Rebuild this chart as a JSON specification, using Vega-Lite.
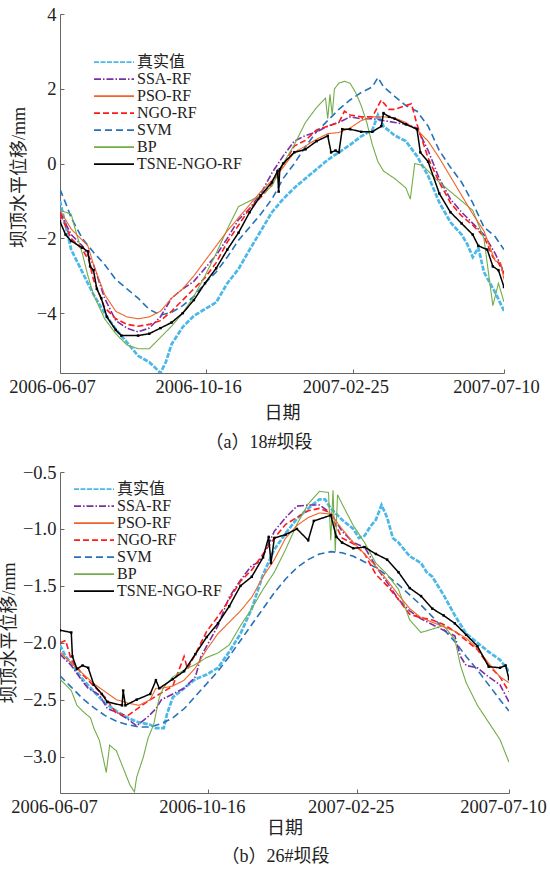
{
"$schema":"https://vega.github.io/schema/vega-lite/v6.json",
"background":"white",
"padding":{"left":0,"top":5,"right":0,"bottom":0},
"spacing":11,
"config":{
"view":{"stroke":null},
"axis":{"labelFont":"Liberation Serif","labelFontSize":18.5,"labelColor":"#222","titleFont":"Liberation Serif, Noto Sans CJK SC","titleFontSize":18,"titleFontWeight":"normal","titleColor":"#222","domainColor":"#666","tickColor":"#666","tickSize":-4,"labelPadding":8,"grid":false,"labelFlush":false,"labelOverlap":false,"labelBound":false},
"legend":{"symbolType":"stroke","symbolSize":1600,"symbolStrokeWidth":1.6,"labelFont":"Liberation Serif, Noto Sans CJK SC","labelFontSize":16,"labelColor":"#222","labelOffset":2,"clipHeight":14.3,"rowPadding":0,"padding":0,"symbolOffset":0,"orient":"none"}
},
"resolve":{"scale":{"color":"independent","strokeDash":"independent","x":"independent","y":"independent"}},
"datasets":{
"top":[
{"s":"真实值","d":"2006-06-07","v":-1.0},{"s":"真实值","d":"2006-06-17","v":-2.3},{"s":"真实值","d":"2006-06-27","v":-2.9},{"s":"真实值","d":"2006-07-07","v":-3.5},{"s":"真实值","d":"2006-07-17","v":-4.0},{"s":"真实值","d":"2006-07-27","v":-4.43},{"s":"真实值","d":"2006-08-06","v":-4.78},{"s":"真实值","d":"2006-08-16","v":-5.14},{"s":"真实值","d":"2006-08-26","v":-5.31},{"s":"真实值","d":"2006-08-31","v":-5.45},{"s":"真实值","d":"2006-09-05","v":-5.6},{"s":"真实值","d":"2006-09-10","v":-5.3},{"s":"真实值","d":"2006-09-15","v":-4.83},{"s":"真实值","d":"2006-09-25","v":-4.37},{"s":"真实值","d":"2006-10-05","v":-4.07},{"s":"真实值","d":"2006-10-15","v":-3.89},{"s":"真实值","d":"2006-10-25","v":-3.71},{"s":"真实值","d":"2006-11-04","v":-3.2},{"s":"真实值","d":"2006-11-14","v":-2.82},{"s":"真实值","d":"2006-11-24","v":-2.3},{"s":"真实值","d":"2006-12-04","v":-1.8},{"s":"真实值","d":"2006-12-14","v":-1.3},{"s":"真实值","d":"2006-12-24","v":-0.95},{"s":"真实值","d":"2007-01-03","v":-0.65},{"s":"真实值","d":"2007-01-13","v":-0.4},{"s":"真实值","d":"2007-01-23","v":-0.15},{"s":"真实值","d":"2007-02-02","v":0.1},{"s":"真实值","d":"2007-02-12","v":0.3},{"s":"真实值","d":"2007-02-22","v":0.5},{"s":"真实值","d":"2007-03-04","v":0.73},{"s":"真实值","d":"2007-03-14","v":0.9},{"s":"真实值","d":"2007-03-19","v":1.3},{"s":"真实值","d":"2007-03-24","v":1.0},{"s":"真实值","d":"2007-04-03","v":0.75},{"s":"真实值","d":"2007-04-13","v":0.6},{"s":"真实值","d":"2007-04-23","v":0.2},{"s":"真实值","d":"2007-05-03","v":-0.33},{"s":"真实值","d":"2007-05-13","v":-1.04},{"s":"真实值","d":"2007-05-23","v":-1.57},{"s":"真实值","d":"2007-06-02","v":-1.9},{"s":"真实值","d":"2007-06-07","v":-2.15},{"s":"真实值","d":"2007-06-12","v":-2.5},{"s":"真实值","d":"2007-06-17","v":-2.25},{"s":"真实值","d":"2007-06-22","v":-2.9},{"s":"真实值","d":"2007-07-02","v":-3.44},{"s":"真实值","d":"2007-07-10","v":-3.94},
{"s":"SVM","d":"2006-06-07","v":-0.69},{"s":"SVM","d":"2006-06-12","v":-1.05},{"s":"SVM","d":"2006-06-17","v":-1.45},{"s":"SVM","d":"2006-06-27","v":-2.0},{"s":"SVM","d":"2006-07-07","v":-2.37},{"s":"SVM","d":"2006-07-17","v":-2.7},{"s":"SVM","d":"2006-07-27","v":-3.1},{"s":"SVM","d":"2006-08-06","v":-3.35},{"s":"SVM","d":"2006-08-16","v":-3.6},{"s":"SVM","d":"2006-08-26","v":-3.9},{"s":"SVM","d":"2006-09-05","v":-4.05},{"s":"SVM","d":"2006-09-15","v":-3.98},{"s":"SVM","d":"2006-09-25","v":-3.8},{"s":"SVM","d":"2006-10-05","v":-3.55},{"s":"SVM","d":"2006-10-15","v":-3.2},{"s":"SVM","d":"2006-10-25","v":-2.9},{"s":"SVM","d":"2006-11-04","v":-2.5},{"s":"SVM","d":"2006-11-14","v":-2.05},{"s":"SVM","d":"2006-11-24","v":-1.7},{"s":"SVM","d":"2006-12-04","v":-1.35},{"s":"SVM","d":"2006-12-14","v":-0.95},{"s":"SVM","d":"2006-12-24","v":-0.4},{"s":"SVM","d":"2007-01-03","v":0.0},{"s":"SVM","d":"2007-01-13","v":0.45},{"s":"SVM","d":"2007-01-23","v":0.85},{"s":"SVM","d":"2007-02-02","v":1.15},{"s":"SVM","d":"2007-02-12","v":1.45},{"s":"SVM","d":"2007-02-22","v":1.7},{"s":"SVM","d":"2007-03-04","v":1.9},{"s":"SVM","d":"2007-03-14","v":2.05},{"s":"SVM","d":"2007-03-19","v":2.3},{"s":"SVM","d":"2007-03-24","v":2.05},{"s":"SVM","d":"2007-04-03","v":1.8},{"s":"SVM","d":"2007-04-13","v":1.55},{"s":"SVM","d":"2007-04-23","v":1.4},{"s":"SVM","d":"2007-05-03","v":1.0},{"s":"SVM","d":"2007-05-13","v":0.35},{"s":"SVM","d":"2007-05-23","v":-0.1},{"s":"SVM","d":"2007-06-02","v":-0.5},{"s":"SVM","d":"2007-06-12","v":-1.05},{"s":"SVM","d":"2007-06-22","v":-1.7},{"s":"SVM","d":"2007-07-02","v":-1.95},{"s":"SVM","d":"2007-07-10","v":-2.3},
{"s":"BP","d":"2006-06-07","v":-1.25},{"s":"BP","d":"2006-06-17","v":-1.35},{"s":"BP","d":"2006-06-22","v":-1.9},{"s":"BP","d":"2006-06-27","v":-2.4},{"s":"BP","d":"2006-07-02","v":-3.0},{"s":"BP","d":"2006-07-07","v":-3.5},{"s":"BP","d":"2006-07-17","v":-4.15},{"s":"BP","d":"2006-07-27","v":-4.55},{"s":"BP","d":"2006-08-06","v":-4.85},{"s":"BP","d":"2006-08-16","v":-4.95},{"s":"BP","d":"2006-08-26","v":-4.95},{"s":"BP","d":"2006-09-05","v":-4.65},{"s":"BP","d":"2006-09-15","v":-4.35},{"s":"BP","d":"2006-09-25","v":-4.0},{"s":"BP","d":"2006-10-05","v":-3.55},{"s":"BP","d":"2006-10-15","v":-3.0},{"s":"BP","d":"2006-10-25","v":-2.4},{"s":"BP","d":"2006-11-04","v":-1.75},{"s":"BP","d":"2006-11-14","v":-1.15},{"s":"BP","d":"2006-11-24","v":-1.0},{"s":"BP","d":"2006-12-04","v":-0.85},{"s":"BP","d":"2006-12-14","v":-0.6},{"s":"BP","d":"2006-12-24","v":0.0},{"s":"BP","d":"2007-01-03","v":0.5},{"s":"BP","d":"2007-01-13","v":1.1},{"s":"BP","d":"2007-01-23","v":1.5},{"s":"BP","d":"2007-01-31","v":1.75},{"s":"BP","d":"2007-02-02","v":1.2},{"s":"BP","d":"2007-02-04","v":1.85},{"s":"BP","d":"2007-02-06","v":1.3},{"s":"BP","d":"2007-02-08","v":2.0},{"s":"BP","d":"2007-02-12","v":2.15},{"s":"BP","d":"2007-02-17","v":2.2},{"s":"BP","d":"2007-02-22","v":2.15},{"s":"BP","d":"2007-02-27","v":1.9},{"s":"BP","d":"2007-03-04","v":1.55},{"s":"BP","d":"2007-03-09","v":1.1},{"s":"BP","d":"2007-03-14","v":0.5},{"s":"BP","d":"2007-03-19","v":0.05},{"s":"BP","d":"2007-03-24","v":-0.2},{"s":"BP","d":"2007-04-03","v":-0.4},{"s":"BP","d":"2007-04-13","v":-0.65},{"s":"BP","d":"2007-04-17","v":-0.95},{"s":"BP","d":"2007-04-21","v":0.0},{"s":"BP","d":"2007-04-28","v":-0.05},{"s":"BP","d":"2007-05-03","v":-0.2},{"s":"BP","d":"2007-05-13","v":-0.5},{"s":"BP","d":"2007-05-23","v":-0.75},{"s":"BP","d":"2007-06-02","v":-1.0},{"s":"BP","d":"2007-06-12","v":-1.25},{"s":"BP","d":"2007-06-22","v":-2.0},{"s":"BP","d":"2007-06-30","v":-3.8},{"s":"BP","d":"2007-07-05","v":-3.2},{"s":"BP","d":"2007-07-10","v":-3.7},
{"s":"SSA-RF","d":"2006-06-07","v":-1.3},{"s":"SSA-RF","d":"2006-06-17","v":-1.9},{"s":"SSA-RF","d":"2006-06-27","v":-2.2},{"s":"SSA-RF","d":"2006-07-07","v":-2.7},{"s":"SSA-RF","d":"2006-07-17","v":-3.6},{"s":"SSA-RF","d":"2006-07-27","v":-4.2},{"s":"SSA-RF","d":"2006-08-06","v":-4.4},{"s":"SSA-RF","d":"2006-08-16","v":-4.5},{"s":"SSA-RF","d":"2006-08-26","v":-4.4},{"s":"SSA-RF","d":"2006-09-05","v":-4.1},{"s":"SSA-RF","d":"2006-09-15","v":-3.6},{"s":"SSA-RF","d":"2006-09-25","v":-3.35},{"s":"SSA-RF","d":"2006-10-05","v":-3.15},{"s":"SSA-RF","d":"2006-10-15","v":-2.8},{"s":"SSA-RF","d":"2006-10-25","v":-2.45},{"s":"SSA-RF","d":"2006-11-04","v":-2.0},{"s":"SSA-RF","d":"2006-11-14","v":-1.5},{"s":"SSA-RF","d":"2006-11-24","v":-1.2},{"s":"SSA-RF","d":"2006-12-04","v":-0.8},{"s":"SSA-RF","d":"2006-12-14","v":-0.25},{"s":"SSA-RF","d":"2006-12-24","v":0.2},{"s":"SSA-RF","d":"2007-01-03","v":0.6},{"s":"SSA-RF","d":"2007-01-13","v":0.75},{"s":"SSA-RF","d":"2007-01-23","v":0.85},{"s":"SSA-RF","d":"2007-02-02","v":1.0},{"s":"SSA-RF","d":"2007-02-12","v":1.1},{"s":"SSA-RF","d":"2007-02-22","v":1.25},{"s":"SSA-RF","d":"2007-03-04","v":1.2},{"s":"SSA-RF","d":"2007-03-14","v":1.2},{"s":"SSA-RF","d":"2007-03-24","v":1.15},{"s":"SSA-RF","d":"2007-04-03","v":1.1},{"s":"SSA-RF","d":"2007-04-13","v":1.05},{"s":"SSA-RF","d":"2007-04-23","v":0.95},{"s":"SSA-RF","d":"2007-05-03","v":0.35},{"s":"SSA-RF","d":"2007-05-13","v":-0.4},{"s":"SSA-RF","d":"2007-05-23","v":-0.95},{"s":"SSA-RF","d":"2007-06-02","v":-1.3},{"s":"SSA-RF","d":"2007-06-12","v":-1.6},{"s":"SSA-RF","d":"2007-06-22","v":-1.9},{"s":"SSA-RF","d":"2007-07-02","v":-2.4},{"s":"SSA-RF","d":"2007-07-10","v":-2.9},
{"s":"PSO-RF","d":"2006-06-07","v":-1.25},{"s":"PSO-RF","d":"2006-06-17","v":-1.75},{"s":"PSO-RF","d":"2006-06-27","v":-2.05},{"s":"PSO-RF","d":"2006-07-02","v":-2.2},{"s":"PSO-RF","d":"2006-07-07","v":-2.7},{"s":"PSO-RF","d":"2006-07-17","v":-3.5},{"s":"PSO-RF","d":"2006-07-27","v":-3.95},{"s":"PSO-RF","d":"2006-08-06","v":-4.1},{"s":"PSO-RF","d":"2006-08-16","v":-4.15},{"s":"PSO-RF","d":"2006-08-26","v":-4.1},{"s":"PSO-RF","d":"2006-09-05","v":-3.95},{"s":"PSO-RF","d":"2006-09-15","v":-3.6},{"s":"PSO-RF","d":"2006-09-25","v":-3.35},{"s":"PSO-RF","d":"2006-10-05","v":-3.0},{"s":"PSO-RF","d":"2006-10-15","v":-2.6},{"s":"PSO-RF","d":"2006-10-25","v":-2.2},{"s":"PSO-RF","d":"2006-11-04","v":-1.8},{"s":"PSO-RF","d":"2006-11-14","v":-1.45},{"s":"PSO-RF","d":"2006-11-24","v":-1.1},{"s":"PSO-RF","d":"2006-12-04","v":-0.75},{"s":"PSO-RF","d":"2006-12-14","v":-0.45},{"s":"PSO-RF","d":"2006-12-24","v":-0.1},{"s":"PSO-RF","d":"2007-01-03","v":0.3},{"s":"PSO-RF","d":"2007-01-13","v":0.47},{"s":"PSO-RF","d":"2007-01-23","v":0.65},{"s":"PSO-RF","d":"2007-02-02","v":0.8},{"s":"PSO-RF","d":"2007-02-12","v":0.83},{"s":"PSO-RF","d":"2007-02-22","v":0.95},{"s":"PSO-RF","d":"2007-03-04","v":1.15},{"s":"PSO-RF","d":"2007-03-14","v":1.25},{"s":"PSO-RF","d":"2007-03-24","v":1.25},{"s":"PSO-RF","d":"2007-04-03","v":1.22},{"s":"PSO-RF","d":"2007-04-13","v":1.1},{"s":"PSO-RF","d":"2007-04-23","v":0.9},{"s":"PSO-RF","d":"2007-05-03","v":0.6},{"s":"PSO-RF","d":"2007-05-13","v":0.15},{"s":"PSO-RF","d":"2007-05-23","v":-0.35},{"s":"PSO-RF","d":"2007-06-02","v":-0.85},{"s":"PSO-RF","d":"2007-06-12","v":-1.35},{"s":"PSO-RF","d":"2007-06-22","v":-1.8},{"s":"PSO-RF","d":"2007-06-27","v":-2.2},{"s":"PSO-RF","d":"2007-07-02","v":-2.6},{"s":"PSO-RF","d":"2007-07-07","v":-2.65},{"s":"PSO-RF","d":"2007-07-10","v":-3.1},
{"s":"NGO-RF","d":"2006-06-07","v":-1.35},{"s":"NGO-RF","d":"2006-06-17","v":-2.0},{"s":"NGO-RF","d":"2006-06-27","v":-2.3},{"s":"NGO-RF","d":"2006-07-03","v":-2.6},{"s":"NGO-RF","d":"2006-07-07","v":-3.1},{"s":"NGO-RF","d":"2006-07-17","v":-3.85},{"s":"NGO-RF","d":"2006-07-27","v":-4.15},{"s":"NGO-RF","d":"2006-08-06","v":-4.3},{"s":"NGO-RF","d":"2006-08-16","v":-4.35},{"s":"NGO-RF","d":"2006-08-26","v":-4.3},{"s":"NGO-RF","d":"2006-09-05","v":-4.2},{"s":"NGO-RF","d":"2006-09-15","v":-3.95},{"s":"NGO-RF","d":"2006-09-25","v":-3.65},{"s":"NGO-RF","d":"2006-10-05","v":-3.35},{"s":"NGO-RF","d":"2006-10-15","v":-3.05},{"s":"NGO-RF","d":"2006-10-25","v":-2.65},{"s":"NGO-RF","d":"2006-11-04","v":-2.1},{"s":"NGO-RF","d":"2006-11-14","v":-1.65},{"s":"NGO-RF","d":"2006-11-24","v":-1.2},{"s":"NGO-RF","d":"2006-12-04","v":-0.9},{"s":"NGO-RF","d":"2006-12-14","v":-0.55},{"s":"NGO-RF","d":"2006-12-24","v":-0.05},{"s":"NGO-RF","d":"2007-01-03","v":0.47},{"s":"NGO-RF","d":"2007-01-13","v":0.62},{"s":"NGO-RF","d":"2007-01-23","v":0.9},{"s":"NGO-RF","d":"2007-02-02","v":1.0},{"s":"NGO-RF","d":"2007-02-12","v":1.1},{"s":"NGO-RF","d":"2007-02-17","v":1.4},{"s":"NGO-RF","d":"2007-02-22","v":1.3},{"s":"NGO-RF","d":"2007-03-04","v":1.25},{"s":"NGO-RF","d":"2007-03-14","v":1.25},{"s":"NGO-RF","d":"2007-03-22","v":1.7},{"s":"NGO-RF","d":"2007-03-29","v":1.45},{"s":"NGO-RF","d":"2007-04-03","v":1.45},{"s":"NGO-RF","d":"2007-04-13","v":1.55},{"s":"NGO-RF","d":"2007-04-18","v":1.6},{"s":"NGO-RF","d":"2007-04-23","v":1.05},{"s":"NGO-RF","d":"2007-05-03","v":0.15},{"s":"NGO-RF","d":"2007-05-13","v":-0.5},{"s":"NGO-RF","d":"2007-05-23","v":-1.05},{"s":"NGO-RF","d":"2007-06-02","v":-1.4},{"s":"NGO-RF","d":"2007-06-12","v":-1.65},{"s":"NGO-RF","d":"2007-06-22","v":-1.95},{"s":"NGO-RF","d":"2007-06-30","v":-2.5},{"s":"NGO-RF","d":"2007-07-05","v":-2.65},{"s":"NGO-RF","d":"2007-07-10","v":-2.95},
{"s":"TSNE-NGO-RF","d":"2006-06-07","v":-1.55},{"s":"TSNE-NGO-RF","d":"2006-06-12","v":-1.9},{"s":"TSNE-NGO-RF","d":"2006-06-17","v":-2.07},{"s":"TSNE-NGO-RF","d":"2006-06-27","v":-2.25},{"s":"TSNE-NGO-RF","d":"2006-07-02","v":-2.35},{"s":"TSNE-NGO-RF","d":"2006-07-04","v":-2.75},{"s":"TSNE-NGO-RF","d":"2006-07-07","v":-2.85},{"s":"TSNE-NGO-RF","d":"2006-07-10","v":-3.35},{"s":"TSNE-NGO-RF","d":"2006-07-14","v":-3.6},{"s":"TSNE-NGO-RF","d":"2006-07-19","v":-4.1},{"s":"TSNE-NGO-RF","d":"2006-07-27","v":-4.45},{"s":"TSNE-NGO-RF","d":"2006-08-01","v":-4.6},{"s":"TSNE-NGO-RF","d":"2006-08-16","v":-4.6},{"s":"TSNE-NGO-RF","d":"2006-08-26","v":-4.55},{"s":"TSNE-NGO-RF","d":"2006-09-05","v":-4.4},{"s":"TSNE-NGO-RF","d":"2006-09-15","v":-4.25},{"s":"TSNE-NGO-RF","d":"2006-09-25","v":-4.0},{"s":"TSNE-NGO-RF","d":"2006-10-05","v":-3.65},{"s":"TSNE-NGO-RF","d":"2006-10-15","v":-3.2},{"s":"TSNE-NGO-RF","d":"2006-10-25","v":-2.8},{"s":"TSNE-NGO-RF","d":"2006-11-04","v":-2.3},{"s":"TSNE-NGO-RF","d":"2006-11-14","v":-1.85},{"s":"TSNE-NGO-RF","d":"2006-11-24","v":-1.3},{"s":"TSNE-NGO-RF","d":"2006-12-04","v":-0.85},{"s":"TSNE-NGO-RF","d":"2006-12-14","v":-0.5},{"s":"TSNE-NGO-RF","d":"2006-12-19","v":-0.2},{"s":"TSNE-NGO-RF","d":"2006-12-20","v":-0.75},{"s":"TSNE-NGO-RF","d":"2006-12-21","v":-0.15},{"s":"TSNE-NGO-RF","d":"2006-12-24","v":0.0},{"s":"TSNE-NGO-RF","d":"2007-01-03","v":0.3},{"s":"TSNE-NGO-RF","d":"2007-01-13","v":0.38},{"s":"TSNE-NGO-RF","d":"2007-01-23","v":0.6},{"s":"TSNE-NGO-RF","d":"2007-02-02","v":0.74},{"s":"TSNE-NGO-RF","d":"2007-02-05","v":0.3},{"s":"TSNE-NGO-RF","d":"2007-02-09","v":0.35},{"s":"TSNE-NGO-RF","d":"2007-02-12","v":0.3},{"s":"TSNE-NGO-RF","d":"2007-02-15","v":0.92},{"s":"TSNE-NGO-RF","d":"2007-02-22","v":0.92},{"s":"TSNE-NGO-RF","d":"2007-03-04","v":0.85},{"s":"TSNE-NGO-RF","d":"2007-03-14","v":0.85},{"s":"TSNE-NGO-RF","d":"2007-03-22","v":1.0},{"s":"TSNE-NGO-RF","d":"2007-03-24","v":1.35},{"s":"TSNE-NGO-RF","d":"2007-03-29","v":1.25},{"s":"TSNE-NGO-RF","d":"2007-04-03","v":1.2},{"s":"TSNE-NGO-RF","d":"2007-04-13","v":1.05},{"s":"TSNE-NGO-RF","d":"2007-04-23","v":0.92},{"s":"TSNE-NGO-RF","d":"2007-04-26","v":0.3},{"s":"TSNE-NGO-RF","d":"2007-05-03","v":0.05},{"s":"TSNE-NGO-RF","d":"2007-05-13","v":-0.8},{"s":"TSNE-NGO-RF","d":"2007-05-23","v":-1.3},{"s":"TSNE-NGO-RF","d":"2007-06-02","v":-1.6},{"s":"TSNE-NGO-RF","d":"2007-06-12","v":-1.9},{"s":"TSNE-NGO-RF","d":"2007-06-17","v":-2.2},{"s":"TSNE-NGO-RF","d":"2007-06-25","v":-2.3},{"s":"TSNE-NGO-RF","d":"2007-06-30","v":-2.75},{"s":"TSNE-NGO-RF","d":"2007-07-05","v":-2.85},{"s":"TSNE-NGO-RF","d":"2007-07-10","v":-3.3}
],
"bot":[
{"s":"真实值","d":"2006-06-07","v":-2.02},{"s":"真实值","d":"2006-06-12","v":-2.12},{"s":"真实值","d":"2006-06-17","v":-2.18},{"s":"真实值","d":"2006-06-27","v":-2.32},{"s":"真实值","d":"2006-07-07","v":-2.43},{"s":"真实值","d":"2006-07-17","v":-2.53},{"s":"真实值","d":"2006-07-27","v":-2.6},{"s":"真实值","d":"2006-08-06","v":-2.66},{"s":"真实值","d":"2006-08-16","v":-2.7},{"s":"真实值","d":"2006-08-26","v":-2.72},{"s":"真实值","d":"2006-08-31","v":-2.75},{"s":"真实值","d":"2006-09-07","v":-2.75},{"s":"真实值","d":"2006-09-10","v":-2.62},{"s":"真实值","d":"2006-09-15","v":-2.48},{"s":"真实值","d":"2006-09-25","v":-2.4},{"s":"真实值","d":"2006-10-05","v":-2.32},{"s":"真实值","d":"2006-10-15","v":-2.28},{"s":"真实值","d":"2006-10-25","v":-2.22},{"s":"真实值","d":"2006-11-04","v":-2.08},{"s":"真实值","d":"2006-11-14","v":-1.92},{"s":"真实值","d":"2006-11-24","v":-1.7},{"s":"真实值","d":"2006-12-04","v":-1.4},{"s":"真实值","d":"2006-12-14","v":-1.18},{"s":"真实值","d":"2006-12-24","v":-1.04},{"s":"真实值","d":"2007-01-03","v":-0.91},{"s":"真实值","d":"2007-01-13","v":-0.82},{"s":"真实值","d":"2007-01-23","v":-0.74},{"s":"真实值","d":"2007-01-28","v":-0.74},{"s":"真实值","d":"2007-02-02","v":-0.82},{"s":"真实值","d":"2007-02-12","v":-0.92},{"s":"真实值","d":"2007-02-22","v":-1.0},{"s":"真实值","d":"2007-02-27","v":-1.08},{"s":"真实值","d":"2007-03-04","v":-1.06},{"s":"真实值","d":"2007-03-09","v":-0.98},{"s":"真实值","d":"2007-03-14","v":-0.92},{"s":"真实值","d":"2007-03-19","v":-0.79},{"s":"真实值","d":"2007-03-24","v":-0.9},{"s":"真实值","d":"2007-03-29","v":-1.08},{"s":"真实值","d":"2007-04-03","v":-1.12},{"s":"真实值","d":"2007-04-13","v":-1.24},{"s":"真实值","d":"2007-04-23","v":-1.3},{"s":"真实值","d":"2007-04-28","v":-1.38},{"s":"真实值","d":"2007-05-03","v":-1.42},{"s":"真实值","d":"2007-05-13","v":-1.58},{"s":"真实值","d":"2007-05-23","v":-1.76},{"s":"真实值","d":"2007-06-02","v":-1.92},{"s":"真实值","d":"2007-06-12","v":-2.0},{"s":"真实值","d":"2007-06-22","v":-2.08},{"s":"真实值","d":"2007-07-02","v":-2.15},{"s":"真实值","d":"2007-07-10","v":-2.25},
{"s":"SVM","d":"2006-06-07","v":-2.29},{"s":"SVM","d":"2006-06-17","v":-2.39},{"s":"SVM","d":"2006-06-27","v":-2.49},{"s":"SVM","d":"2006-07-07","v":-2.57},{"s":"SVM","d":"2006-07-17","v":-2.64},{"s":"SVM","d":"2006-07-27","v":-2.69},{"s":"SVM","d":"2006-08-06","v":-2.72},{"s":"SVM","d":"2006-08-16","v":-2.74},{"s":"SVM","d":"2006-08-26","v":-2.74},{"s":"SVM","d":"2006-09-05","v":-2.71},{"s":"SVM","d":"2006-09-15","v":-2.66},{"s":"SVM","d":"2006-09-25","v":-2.58},{"s":"SVM","d":"2006-10-05","v":-2.47},{"s":"SVM","d":"2006-10-15","v":-2.36},{"s":"SVM","d":"2006-10-25","v":-2.25},{"s":"SVM","d":"2006-11-04","v":-2.12},{"s":"SVM","d":"2006-11-14","v":-1.98},{"s":"SVM","d":"2006-11-24","v":-1.84},{"s":"SVM","d":"2006-12-04","v":-1.7},{"s":"SVM","d":"2006-12-14","v":-1.56},{"s":"SVM","d":"2006-12-24","v":-1.44},{"s":"SVM","d":"2007-01-03","v":-1.34},{"s":"SVM","d":"2007-01-13","v":-1.27},{"s":"SVM","d":"2007-01-23","v":-1.22},{"s":"SVM","d":"2007-02-02","v":-1.2},{"s":"SVM","d":"2007-02-12","v":-1.21},{"s":"SVM","d":"2007-02-22","v":-1.24},{"s":"SVM","d":"2007-03-04","v":-1.29},{"s":"SVM","d":"2007-03-14","v":-1.34},{"s":"SVM","d":"2007-03-24","v":-1.41},{"s":"SVM","d":"2007-04-03","v":-1.49},{"s":"SVM","d":"2007-04-13","v":-1.58},{"s":"SVM","d":"2007-04-23","v":-1.67},{"s":"SVM","d":"2007-05-03","v":-1.77},{"s":"SVM","d":"2007-05-13","v":-1.88},{"s":"SVM","d":"2007-05-23","v":-1.99},{"s":"SVM","d":"2007-06-02","v":-2.12},{"s":"SVM","d":"2007-06-12","v":-2.24},{"s":"SVM","d":"2007-06-22","v":-2.37},{"s":"SVM","d":"2007-07-02","v":-2.5},{"s":"SVM","d":"2007-07-10","v":-2.6},
{"s":"BP","d":"2006-06-07","v":-2.32},{"s":"BP","d":"2006-06-17","v":-2.42},{"s":"BP","d":"2006-06-22","v":-2.55},{"s":"BP","d":"2006-06-27","v":-2.6},{"s":"BP","d":"2006-07-04","v":-2.66},{"s":"BP","d":"2006-07-07","v":-2.75},{"s":"BP","d":"2006-07-12","v":-2.86},{"s":"BP","d":"2006-07-18","v":-3.14},{"s":"BP","d":"2006-07-21","v":-2.9},{"s":"BP","d":"2006-07-27","v":-2.95},{"s":"BP","d":"2006-08-02","v":-3.1},{"s":"BP","d":"2006-08-08","v":-3.25},{"s":"BP","d":"2006-08-12","v":-3.31},{"s":"BP","d":"2006-08-14","v":-3.18},{"s":"BP","d":"2006-08-20","v":-3.0},{"s":"BP","d":"2006-08-24","v":-2.84},{"s":"BP","d":"2006-08-29","v":-2.72},{"s":"BP","d":"2006-09-03","v":-2.48},{"s":"BP","d":"2006-09-07","v":-2.39},{"s":"BP","d":"2006-09-15","v":-2.3},{"s":"BP","d":"2006-09-25","v":-2.24},{"s":"BP","d":"2006-10-05","v":-2.19},{"s":"BP","d":"2006-10-15","v":-2.13},{"s":"BP","d":"2006-10-25","v":-2.09},{"s":"BP","d":"2006-11-04","v":-2.02},{"s":"BP","d":"2006-11-14","v":-1.85},{"s":"BP","d":"2006-11-24","v":-1.7},{"s":"BP","d":"2006-12-04","v":-1.53},{"s":"BP","d":"2006-12-14","v":-1.38},{"s":"BP","d":"2006-12-24","v":-1.18},{"s":"BP","d":"2007-01-03","v":-0.96},{"s":"BP","d":"2007-01-13","v":-0.78},{"s":"BP","d":"2007-01-23","v":-0.67},{"s":"BP","d":"2007-01-31","v":-0.68},{"s":"BP","d":"2007-02-02","v":-1.1},{"s":"BP","d":"2007-02-04","v":-0.66},{"s":"BP","d":"2007-02-06","v":-1.2},{"s":"BP","d":"2007-02-08","v":-0.7},{"s":"BP","d":"2007-02-12","v":-0.78},{"s":"BP","d":"2007-02-22","v":-0.97},{"s":"BP","d":"2007-03-04","v":-1.12},{"s":"BP","d":"2007-03-14","v":-1.3},{"s":"BP","d":"2007-03-24","v":-1.4},{"s":"BP","d":"2007-04-03","v":-1.53},{"s":"BP","d":"2007-04-13","v":-1.8},{"s":"BP","d":"2007-04-23","v":-1.91},{"s":"BP","d":"2007-05-03","v":-1.88},{"s":"BP","d":"2007-05-13","v":-1.85},{"s":"BP","d":"2007-05-23","v":-1.97},{"s":"BP","d":"2007-05-28","v":-2.2},{"s":"BP","d":"2007-06-02","v":-2.35},{"s":"BP","d":"2007-06-12","v":-2.55},{"s":"BP","d":"2007-06-22","v":-2.7},{"s":"BP","d":"2007-07-02","v":-2.85},{"s":"BP","d":"2007-07-10","v":-3.05},
{"s":"SSA-RF","d":"2006-06-07","v":-2.1},{"s":"SSA-RF","d":"2006-06-17","v":-2.2},{"s":"SSA-RF","d":"2006-06-27","v":-2.34},{"s":"SSA-RF","d":"2006-07-02","v":-2.4},{"s":"SSA-RF","d":"2006-07-12","v":-2.46},{"s":"SSA-RF","d":"2006-07-19","v":-2.58},{"s":"SSA-RF","d":"2006-07-27","v":-2.61},{"s":"SSA-RF","d":"2006-08-06","v":-2.67},{"s":"SSA-RF","d":"2006-08-14","v":-2.73},{"s":"SSA-RF","d":"2006-08-24","v":-2.65},{"s":"SSA-RF","d":"2006-08-31","v":-2.58},{"s":"SSA-RF","d":"2006-09-05","v":-2.5},{"s":"SSA-RF","d":"2006-09-15","v":-2.45},{"s":"SSA-RF","d":"2006-09-25","v":-2.4},{"s":"SSA-RF","d":"2006-10-05","v":-2.3},{"s":"SSA-RF","d":"2006-10-10","v":-2.12},{"s":"SSA-RF","d":"2006-10-15","v":-2.03},{"s":"SSA-RF","d":"2006-10-25","v":-1.85},{"s":"SSA-RF","d":"2006-11-04","v":-1.6},{"s":"SSA-RF","d":"2006-11-14","v":-1.45},{"s":"SSA-RF","d":"2006-11-24","v":-1.32},{"s":"SSA-RF","d":"2006-11-29","v":-1.3},{"s":"SSA-RF","d":"2006-12-04","v":-1.24},{"s":"SSA-RF","d":"2006-12-14","v":-1.02},{"s":"SSA-RF","d":"2006-12-24","v":-0.9},{"s":"SSA-RF","d":"2007-01-03","v":-0.8},{"s":"SSA-RF","d":"2007-01-13","v":-0.79},{"s":"SSA-RF","d":"2007-01-23","v":-0.79},{"s":"SSA-RF","d":"2007-02-02","v":-0.86},{"s":"SSA-RF","d":"2007-02-12","v":-1.02},{"s":"SSA-RF","d":"2007-02-22","v":-1.12},{"s":"SSA-RF","d":"2007-03-04","v":-1.16},{"s":"SSA-RF","d":"2007-03-14","v":-1.33},{"s":"SSA-RF","d":"2007-03-24","v":-1.47},{"s":"SSA-RF","d":"2007-04-03","v":-1.62},{"s":"SSA-RF","d":"2007-04-13","v":-1.72},{"s":"SSA-RF","d":"2007-04-23","v":-1.79},{"s":"SSA-RF","d":"2007-05-03","v":-1.84},{"s":"SSA-RF","d":"2007-05-13","v":-1.89},{"s":"SSA-RF","d":"2007-05-23","v":-1.94},{"s":"SSA-RF","d":"2007-05-28","v":-2.12},{"s":"SSA-RF","d":"2007-06-02","v":-2.2},{"s":"SSA-RF","d":"2007-06-12","v":-2.22},{"s":"SSA-RF","d":"2007-06-22","v":-2.3},{"s":"SSA-RF","d":"2007-07-02","v":-2.37},{"s":"SSA-RF","d":"2007-07-10","v":-2.52},
{"s":"PSO-RF","d":"2006-06-07","v":-2.08},{"s":"PSO-RF","d":"2006-06-17","v":-2.18},{"s":"PSO-RF","d":"2006-06-27","v":-2.27},{"s":"PSO-RF","d":"2006-07-07","v":-2.36},{"s":"PSO-RF","d":"2006-07-17","v":-2.43},{"s":"PSO-RF","d":"2006-07-27","v":-2.5},{"s":"PSO-RF","d":"2006-08-06","v":-2.53},{"s":"PSO-RF","d":"2006-08-16","v":-2.55},{"s":"PSO-RF","d":"2006-08-26","v":-2.5},{"s":"PSO-RF","d":"2006-08-31","v":-2.4},{"s":"PSO-RF","d":"2006-09-05","v":-2.4},{"s":"PSO-RF","d":"2006-09-15","v":-2.38},{"s":"PSO-RF","d":"2006-09-25","v":-2.33},{"s":"PSO-RF","d":"2006-10-05","v":-2.22},{"s":"PSO-RF","d":"2006-10-15","v":-2.06},{"s":"PSO-RF","d":"2006-10-25","v":-1.92},{"s":"PSO-RF","d":"2006-11-04","v":-1.82},{"s":"PSO-RF","d":"2006-11-14","v":-1.72},{"s":"PSO-RF","d":"2006-11-24","v":-1.6},{"s":"PSO-RF","d":"2006-12-04","v":-1.42},{"s":"PSO-RF","d":"2006-12-14","v":-1.27},{"s":"PSO-RF","d":"2006-12-24","v":-1.08},{"s":"PSO-RF","d":"2007-01-03","v":-0.97},{"s":"PSO-RF","d":"2007-01-13","v":-0.9},{"s":"PSO-RF","d":"2007-01-23","v":-0.86},{"s":"PSO-RF","d":"2007-02-02","v":-0.87},{"s":"PSO-RF","d":"2007-02-12","v":-1.0},{"s":"PSO-RF","d":"2007-02-22","v":-1.12},{"s":"PSO-RF","d":"2007-03-04","v":-1.22},{"s":"PSO-RF","d":"2007-03-14","v":-1.33},{"s":"PSO-RF","d":"2007-03-24","v":-1.45},{"s":"PSO-RF","d":"2007-04-03","v":-1.58},{"s":"PSO-RF","d":"2007-04-13","v":-1.7},{"s":"PSO-RF","d":"2007-04-23","v":-1.78},{"s":"PSO-RF","d":"2007-05-03","v":-1.82},{"s":"PSO-RF","d":"2007-05-13","v":-1.86},{"s":"PSO-RF","d":"2007-05-23","v":-1.9},{"s":"PSO-RF","d":"2007-06-02","v":-1.96},{"s":"PSO-RF","d":"2007-06-12","v":-2.05},{"s":"PSO-RF","d":"2007-06-22","v":-2.18},{"s":"PSO-RF","d":"2007-07-02","v":-2.3},{"s":"PSO-RF","d":"2007-07-10","v":-2.35},
{"s":"NGO-RF","d":"2006-06-07","v":-2.0},{"s":"NGO-RF","d":"2006-06-12","v":-1.98},{"s":"NGO-RF","d":"2006-06-17","v":-2.15},{"s":"NGO-RF","d":"2006-06-27","v":-2.28},{"s":"NGO-RF","d":"2006-07-07","v":-2.38},{"s":"NGO-RF","d":"2006-07-17","v":-2.48},{"s":"NGO-RF","d":"2006-07-27","v":-2.62},{"s":"NGO-RF","d":"2006-08-06","v":-2.64},{"s":"NGO-RF","d":"2006-08-16","v":-2.57},{"s":"NGO-RF","d":"2006-08-26","v":-2.5},{"s":"NGO-RF","d":"2006-09-05","v":-2.44},{"s":"NGO-RF","d":"2006-09-15","v":-2.38},{"s":"NGO-RF","d":"2006-09-25","v":-2.12},{"s":"NGO-RF","d":"2006-09-28","v":-2.23},{"s":"NGO-RF","d":"2006-10-05","v":-2.1},{"s":"NGO-RF","d":"2006-10-15","v":-1.9},{"s":"NGO-RF","d":"2006-10-25","v":-1.77},{"s":"NGO-RF","d":"2006-11-04","v":-1.62},{"s":"NGO-RF","d":"2006-11-14","v":-1.46},{"s":"NGO-RF","d":"2006-11-24","v":-1.36},{"s":"NGO-RF","d":"2006-12-04","v":-1.22},{"s":"NGO-RF","d":"2006-12-14","v":-1.08},{"s":"NGO-RF","d":"2006-12-24","v":-0.96},{"s":"NGO-RF","d":"2007-01-03","v":-0.9},{"s":"NGO-RF","d":"2007-01-13","v":-0.84},{"s":"NGO-RF","d":"2007-01-23","v":-0.82},{"s":"NGO-RF","d":"2007-02-02","v":-0.86},{"s":"NGO-RF","d":"2007-02-07","v":-0.98},{"s":"NGO-RF","d":"2007-02-12","v":-1.08},{"s":"NGO-RF","d":"2007-02-22","v":-1.13},{"s":"NGO-RF","d":"2007-03-04","v":-1.22},{"s":"NGO-RF","d":"2007-03-14","v":-1.4},{"s":"NGO-RF","d":"2007-03-24","v":-1.5},{"s":"NGO-RF","d":"2007-04-03","v":-1.62},{"s":"NGO-RF","d":"2007-04-13","v":-1.75},{"s":"NGO-RF","d":"2007-04-23","v":-1.78},{"s":"NGO-RF","d":"2007-05-03","v":-1.8},{"s":"NGO-RF","d":"2007-05-13","v":-1.84},{"s":"NGO-RF","d":"2007-05-23","v":-1.9},{"s":"NGO-RF","d":"2007-06-02","v":-1.98},{"s":"NGO-RF","d":"2007-06-12","v":-2.06},{"s":"NGO-RF","d":"2007-06-22","v":-2.2},{"s":"NGO-RF","d":"2007-07-02","v":-2.3},{"s":"NGO-RF","d":"2007-07-10","v":-2.43},
{"s":"TSNE-NGO-RF","d":"2006-06-07","v":-1.89},{"s":"TSNE-NGO-RF","d":"2006-06-17","v":-1.91},{"s":"TSNE-NGO-RF","d":"2006-06-18","v":-2.12},{"s":"TSNE-NGO-RF","d":"2006-06-22","v":-2.23},{"s":"TSNE-NGO-RF","d":"2006-06-27","v":-2.2},{"s":"TSNE-NGO-RF","d":"2006-07-02","v":-2.22},{"s":"TSNE-NGO-RF","d":"2006-07-07","v":-2.37},{"s":"TSNE-NGO-RF","d":"2006-07-14","v":-2.45},{"s":"TSNE-NGO-RF","d":"2006-07-19","v":-2.52},{"s":"TSNE-NGO-RF","d":"2006-08-01","v":-2.55},{"s":"TSNE-NGO-RF","d":"2006-08-02","v":-2.42},{"s":"TSNE-NGO-RF","d":"2006-08-04","v":-2.55},{"s":"TSNE-NGO-RF","d":"2006-08-14","v":-2.5},{"s":"TSNE-NGO-RF","d":"2006-08-26","v":-2.45},{"s":"TSNE-NGO-RF","d":"2006-08-31","v":-2.33},{"s":"TSNE-NGO-RF","d":"2006-09-03","v":-2.4},{"s":"TSNE-NGO-RF","d":"2006-09-15","v":-2.32},{"s":"TSNE-NGO-RF","d":"2006-09-25","v":-2.25},{"s":"TSNE-NGO-RF","d":"2006-10-05","v":-2.1},{"s":"TSNE-NGO-RF","d":"2006-10-15","v":-1.95},{"s":"TSNE-NGO-RF","d":"2006-10-25","v":-1.83},{"s":"TSNE-NGO-RF","d":"2006-11-04","v":-1.68},{"s":"TSNE-NGO-RF","d":"2006-11-14","v":-1.5},{"s":"TSNE-NGO-RF","d":"2006-11-24","v":-1.42},{"s":"TSNE-NGO-RF","d":"2006-12-04","v":-1.25},{"s":"TSNE-NGO-RF","d":"2006-12-09","v":-1.07},{"s":"TSNE-NGO-RF","d":"2006-12-11","v":-1.3},{"s":"TSNE-NGO-RF","d":"2006-12-14","v":-1.08},{"s":"TSNE-NGO-RF","d":"2006-12-24","v":-1.05},{"s":"TSNE-NGO-RF","d":"2007-01-03","v":-1.0},{"s":"TSNE-NGO-RF","d":"2007-01-13","v":-1.1},{"s":"TSNE-NGO-RF","d":"2007-01-18","v":-0.93},{"s":"TSNE-NGO-RF","d":"2007-02-02","v":-0.88},{"s":"TSNE-NGO-RF","d":"2007-02-07","v":-1.07},{"s":"TSNE-NGO-RF","d":"2007-02-12","v":-1.12},{"s":"TSNE-NGO-RF","d":"2007-02-22","v":-1.17},{"s":"TSNE-NGO-RF","d":"2007-03-04","v":-1.16},{"s":"TSNE-NGO-RF","d":"2007-03-14","v":-1.22},{"s":"TSNE-NGO-RF","d":"2007-03-24","v":-1.27},{"s":"TSNE-NGO-RF","d":"2007-04-03","v":-1.38},{"s":"TSNE-NGO-RF","d":"2007-04-13","v":-1.52},{"s":"TSNE-NGO-RF","d":"2007-04-23","v":-1.59},{"s":"TSNE-NGO-RF","d":"2007-05-03","v":-1.7},{"s":"TSNE-NGO-RF","d":"2007-05-13","v":-1.76},{"s":"TSNE-NGO-RF","d":"2007-05-23","v":-1.83},{"s":"TSNE-NGO-RF","d":"2007-06-02","v":-1.93},{"s":"TSNE-NGO-RF","d":"2007-06-12","v":-2.03},{"s":"TSNE-NGO-RF","d":"2007-06-22","v":-2.21},{"s":"TSNE-NGO-RF","d":"2007-07-02","v":-2.22},{"s":"TSNE-NGO-RF","d":"2007-07-07","v":-2.2},{"s":"TSNE-NGO-RF","d":"2007-07-10","v":-2.32}
]
},
"vconcat":[
{
"width":444,"height":359,
"data":{"name":"top"},
"title":{"text":"（a）18#坝段","orient":"bottom","anchor":"middle","dx":-23,"offset":11,"fontSize":18,"font":"Liberation Serif, Noto Sans CJK SC","fontWeight":"normal","color":"#222"},
"encoding":{
"x":{"field":"d","type":"temporal","scale":{"type":"utc","domain":[{"year":2006,"month":6,"date":7,"utc":true},{"year":2007,"month":7,"date":10,"utc":true}]},"axis":{"values":[{"year":2006,"month":6,"date":7,"utc":true},{"year":2006,"month":10,"date":16,"utc":true},{"year":2007,"month":2,"date":25,"utc":true},{"year":2007,"month":7,"date":10,"utc":true}],"format":"%Y-%m-%d","labelAngle":0,"labelOffset":-8,"title":"日期","titlePadding":9}},
"y":{"field":"v","type":"quantitative","scale":{"domain":[-5.6,4],"nice":false,"zero":false},"axis":{"values":[-4,-2,0,2,4],"title":"坝顶水平位移/mm","titlePadding":8,"titleY":163}},
"color":{"field":"s","type":"nominal","title":null,"scale":{"domain":["真实值","SSA-RF","PSO-RF","NGO-RF","SVM","BP","TSNE-NGO-RF"],"range":["#4bb8e8","#7b2fa3","#f0642a","#ff1a1a","#2672b8","#72ad4a","#000000"]},"legend":{"orient":"none","legendX":33,"legendY":41}},
"strokeDash":{"field":"s","type":"nominal","title":null,"scale":{"domain":["真实值","SSA-RF","PSO-RF","NGO-RF","SVM","BP","TSNE-NGO-RF"],"range":[[5,1.5],[7,2,1.5,2],[1,0],[6,3],[7,4],[1,0],[1,0]]},"legend":{"orient":"none","legendX":33,"legendY":41}}
},
"layer":[
{"transform":[{"filter":"datum.s==='真实值'"}],"mark":{"type":"line","strokeWidth":2.7,"clip":true}},
{"transform":[{"filter":"datum.s==='SVM' || datum.s==='SSA-RF' || datum.s==='NGO-RF'"}],"mark":{"type":"line","strokeWidth":1.6,"clip":true}},
{"transform":[{"filter":"datum.s==='PSO-RF' || datum.s==='BP'"}],"mark":{"type":"line","strokeWidth":1.1,"clip":true}},
{"transform":[{"filter":"datum.s==='TSNE-NGO-RF'"}],"mark":{"type":"line","strokeWidth":1.5,"clip":true}},
{"transform":[{"filter":"datum.s==='TSNE-NGO-RF'"}],"mark":{"type":"point","shape":"square","filled":true,"size":6,"opacity":1,"clip":true},"encoding":{"color":{"value":"#000000"},"strokeDash":{"value":[1,0]}}}
]
},
{
"width":449,"height":321,
"data":{"name":"bot"},
"title":{"text":"（b）26#坝段","orient":"bottom","anchor":"middle","dx":-9,"offset":10,"fontSize":18,"font":"Liberation Serif, Noto Sans CJK SC","fontWeight":"normal","color":"#222"},
"encoding":{
"x":{"field":"d","type":"temporal","scale":{"type":"utc","domain":[{"year":2006,"month":6,"date":7,"utc":true},{"year":2007,"month":7,"date":10,"utc":true}]},"axis":{"values":[{"year":2006,"month":6,"date":7,"utc":true},{"year":2006,"month":10,"date":16,"utc":true},{"year":2007,"month":2,"date":25,"utc":true},{"year":2007,"month":7,"date":10,"utc":true}],"format":"%Y-%m-%d","labelAngle":0,"labelOffset":-6,"title":"日期","titlePadding":4}},
"y":{"field":"v","type":"quantitative","scale":{"domain":[-3.32,-0.5],"nice":false,"zero":false},"axis":{"values":[-3.0,-2.5,-2.0,-1.5,-1.0,-0.5],"format":".1f","title":"坝顶水平位移/mm","titlePadding":4}},
"color":{"field":"s","type":"nominal","title":null,"scale":{"domain":["真实值","SSA-RF","PSO-RF","NGO-RF","SVM","BP","TSNE-NGO-RF"],"range":["#4bb8e8","#7b2fa3","#f0642a","#ff1a1a","#2672b8","#72ad4a","#000000"]},"legend":{"orient":"none","legendX":13,"legendY":10}},
"strokeDash":{"field":"s","type":"nominal","title":null,"scale":{"domain":["真实值","SSA-RF","PSO-RF","NGO-RF","SVM","BP","TSNE-NGO-RF"],"range":[[5,1.5],[7,2,1.5,2],[1,0],[6,3],[7,4],[1,0],[1,0]]},"legend":{"orient":"none","legendX":13,"legendY":10}}
},
"layer":[
{"transform":[{"filter":"datum.s==='真实值'"}],"mark":{"type":"line","strokeWidth":2.7,"clip":true}},
{"transform":[{"filter":"datum.s==='SVM' || datum.s==='SSA-RF' || datum.s==='NGO-RF'"}],"mark":{"type":"line","strokeWidth":1.6,"clip":true}},
{"transform":[{"filter":"datum.s==='PSO-RF' || datum.s==='BP'"}],"mark":{"type":"line","strokeWidth":1.1,"clip":true}},
{"transform":[{"filter":"datum.s==='TSNE-NGO-RF'"}],"mark":{"type":"line","strokeWidth":1.5,"clip":true}},
{"transform":[{"filter":"datum.s==='TSNE-NGO-RF'"}],"mark":{"type":"point","shape":"square","filled":true,"size":6,"opacity":1,"clip":true},"encoding":{"color":{"value":"#000000"},"strokeDash":{"value":[1,0]}}}
]
}
]
}
